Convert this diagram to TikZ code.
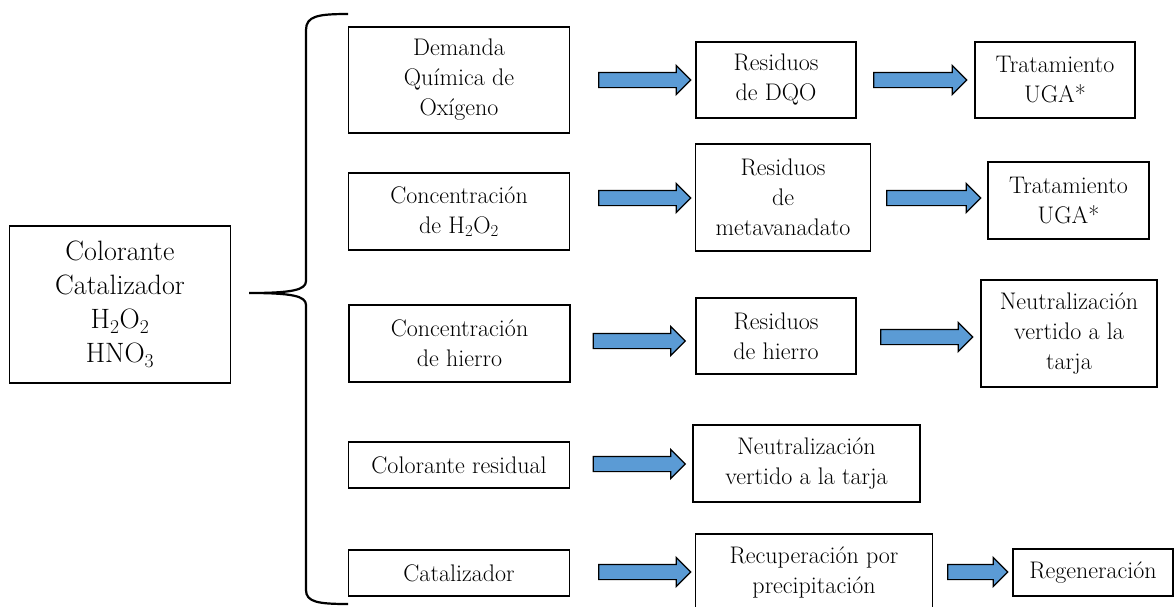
\documentclass[tikz,border=0pt]{standalone}
\usepackage{fontspec}
\usepackage{xcolor}
\usepackage{tikz}
\usetikzlibrary{positioning,shapes.arrows}
\definecolor{flecha}{RGB}{91,155,213}

\begin{document}
\begin{tikzpicture}[x=1pt,y=-1pt,
        caja/.style={draw=black,line width=1.4pt,align=center,inner sep=0pt,
                     font=\fontsize{24}{30}\selectfont},
        origen/.style={caja,font=\fontsize{28}{34}\selectfont},
        flech/.style={single arrow,draw=black,line width=1.2pt,fill=flecha,
                      inner xsep=0pt,inner ysep=7pt,
                      single arrow head extend=7pt}]
        \useasboundingbox (0,0) rectangle (1174,606);
        \clip (0,0) rectangle (1174,606);
        % muestra inicial
        \node[origen,minimum width=221pt,minimum height=157pt] (mues) at (120,304.5)
          {Colorante\\Catalizador\\H\textsubscript{2}O\textsubscript{2}\\HNO\textsubscript{3}};
        % llave
        \draw[line width=2.2pt] (348,14) .. controls (318,14) and (306,16) .. (306,30)
          -- (306,281) .. controls (306,290) and (292,293) .. (249,293)
          .. controls (292,293) and (306,296) .. (306,305)
          -- (306,590) .. controls (306,602) and (318,604) .. (348,604);
        % analisis
        \node[caja,minimum width=221pt,minimum height=106pt] (dqo) at (459,80)
          {Demanda\\Química de\\Oxígeno};
        \node[caja,minimum width=221pt,minimum height=77pt] (pero) at (459,211.5)
          {Concentración\\de H\textsubscript{2}O\textsubscript{2}};
        \node[caja,minimum width=221pt,minimum height=77pt] (fe) at (459.5,343.5)
          {Concentración\\de hierro};
        \node[caja,minimum width=221pt,minimum height=46pt] (col) at (459,465)
          {Colorante residual};
        \node[caja,minimum width=221pt,minimum height=46pt] (cat) at (459,573)
          {Catalizador};
        % residuos
        \node[caja,minimum width=160pt,minimum height=76pt] (rdqo) at (776,80)
          {Residuos\\de DQO};
        \node[caja,minimum width=175pt,minimum height=107pt] (rmeta) at (783,197.5)
          {Residuos\\de\\metavanadato};
        \node[caja,minimum width=160pt,minimum height=76pt] (rfe) at (776,336)
          {Residuos\\de hierro};
        \node[caja,minimum width=227pt,minimum height=77pt] (ncol) at (806.5,463.5)
          {Neutralización\\vertido a la tarja};
        \node[caja,minimum width=237pt,minimum height=76pt] (rcat) at (814,572)
          {Recuperación por\\precipitación};
        % destino final
        \node[caja,minimum width=160pt,minimum height=76pt] (tdqo) at (1055,80)
          {Tratamiento\\UGA*};
        \node[caja,minimum width=161pt,minimum height=77pt] (tmeta) at (1068.5,200.5)
          {Tratamiento\\UGA*};
        \node[caja,minimum width=176pt,minimum height=107pt] (nfe) at (1069,333.5)
          {Neutralización\\vertido a la\\tarja};
        \node[caja,minimum width=160pt,minimum height=47pt] (reg) at (1093,572.5)
          {Regeneración};
        % flechas
        \foreach \n/\x/\y/\l in {1/641/80/92,2/641/198/92,3/635.5/341/92,
            4/635.5/464/92,5/641/572/92,6/916.5/80/93,7/930/198/94,
            8/923/337/92,9/974/572/60}{
          \node[flech,minimum height=\l pt] (f\n) at (\x,\y) {};
        }
      \end{tikzpicture}
\end{document}
